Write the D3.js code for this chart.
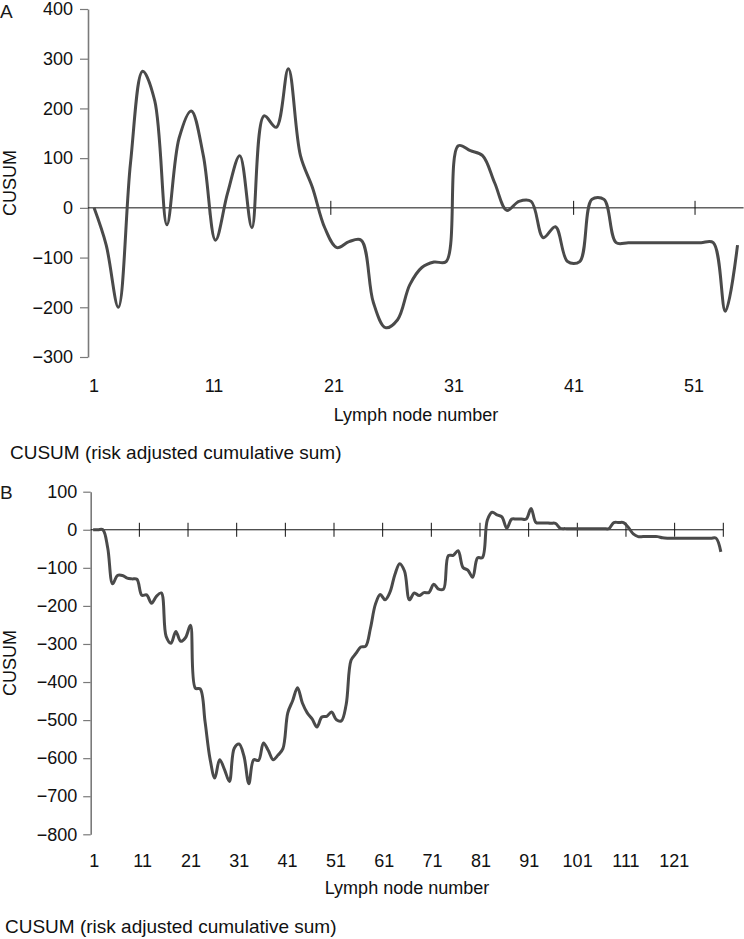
<!DOCTYPE html>
<html>
<head>
<meta charset="utf-8">
<script src="https://cdn.jsdelivr.net/npm/d3@7"></script>
<style>
  body { margin: 0; background: #fff; }
  svg { display: block; font-family: "Liberation Sans", Arial, Helvetica, sans-serif; }
</style>
</head>
<body>
<svg id="chart" width="744" height="939"></svg>
<script>
// panel A: CUSUM per lymph node (54 nodes)
const cusumA = [
  0, -75, -200, 90, 275, 215, -34, 140, 195, 105,
  -65, 30, 105, -40, 185, 162, 280, 105, 40, -40,
  -80, -68, -65, -190, -241, -225, -155, -120, -109, -108,
  125, 115, 105, 50, -5, 13, 13, -60, -38, -108,
  -108, 17, 17, -70, -70, -70, -70, -70, -70, -70,
  -70, -70, -208, -75
];

// panel B: CUSUM per lymph node (130 nodes)
const cusumB = [
  0, 0, 0, -48, -142, -120, -120, -127, -129, -130,
  -172, -171, -193, -175, -166, -280, -298, -267, -293, -283,
  -251, -416, -418, -504, -600, -652, -604, -630, -661, -574,
  -563, -595, -667, -604, -606, -560, -580, -604, -592, -575,
  -481, -449, -415, -455, -481, -497, -518, -492, -490, -479,
  -499, -502, -459, -343, -325, -308, -306, -258, -196, -170,
  -184, -164, -118, -89, -109, -184, -166, -173, -165, -165,
  -143, -156, -156, -68, -67, -55, -99, -106, -125, -74,
  -73, 25, 46, 39, 34, 4, 28, 28, 28, 28,
  56, 19, 18, 18, 17, 17, 4, 3, 3, 3,
  3, 3, 3, 3, 3, 3, 3, 19, 19, 19,
  6, -11, -18, -18, -18, -18, -18, -21, -22, -22,
  -22, -22, -22, -22, -22, -22, -22, -22, -22, -58
];

const yTicksA = [-300, -200, -100, 0, 100, 200, 300, 400];
const yTicksB = [-800, -700, -600, -500, -400, -300, -200, -100, 0, 100];
const xLabelsA = [1, 11, 21, 31, 41, 51];
const xLabelsB = [1, 11, 21, 31, 41, 51, 61, 71, 81, 91, 101, 111, 121];
// tick marks sit between categories
const xMarksA = [10.5, 20.5, 30.5, 40.5, 50.5];
const xMarksB = [10.5, 20.5, 30.5, 40.5, 50.5, 60.5, 70.5, 80.5, 90.5, 100.5, 110.5, 120.5, 130.5];

const svg = d3.select("#chart");

const panels = [
  {
    letter: "A", values: cusumA, yTicks: yTicksA, xLabels: xLabelsA, xMarks: xMarksA,
    left: 88, right: 743.6, top: 9, bottom: 357, yDomain: [-300, 400],
    labelRange: [94, 694], letterY: 18, labelY: 392,
    titleX: 416, titleY: 421, yTitleY: 183, captionX: 10, captionY: 459,
    tickSize: 8, tickPad: 7,
  },
  {
    letter: "B", values: cusumB, yTicks: yTicksB, xLabels: xLabelsB, xMarks: xMarksB,
    left: 90.7, right: 723.3, top: 491.7, bottom: 834.3, yDomain: [-800, 100],
    labelRange: [94.3, 674.3], letterY: 499, labelY: 867,
    titleX: 407, titleY: 894, yTitleY: 663, captionX: 5, captionY: 933,
    tickSize: 7.5, tickPad: 6,
  },
];

panels.forEach(drawPanel);

function drawPanel(p) {
  const g = svg.append("g");

  const x = d3.scaleLinear()
    .domain([0.5, p.values.length + 0.5])
    .range([p.left, p.right]);

  const y = d3.scaleLinear()
    .domain(p.yDomain)
    .range([p.bottom, p.top]);

  const xLabel = d3.scaleLinear()
    .domain([p.xLabels[0], p.xLabels[p.xLabels.length - 1]])
    .range(p.labelRange);

  // panel letter
  g.append("text")
    .attr("x", 0)
    .attr("y", p.letterY)
    .style("font-size", "19px")
    .attr("fill", "#1a1a1a")
    .text(p.letter);

  // value axis
  const yAxis = g.append("g")
    .attr("transform", `translate(${p.left},0)`)
    .call(
      d3.axisLeft(y)
        .tickValues(p.yTicks)
        .tickSize(p.tickSize)
        .tickPadding(p.tickPad)
        .tickSizeOuter(0)
        .tickFormat(d3.format("d"))
    );

  yAxis.select(".domain").attr("stroke", "#7a7a7a").attr("stroke-width", 1.6);
  yAxis.selectAll(".tick line").attr("stroke", "#7a7a7a").attr("stroke-width", 1.2);
  yAxis.selectAll(".tick text")
    .attr("fill", "#111")
    .style("font-size", "18px")
    .style("font-family", "\"Liberation Sans\", Arial, sans-serif");

  g.append("text")
    .attr("transform", `translate(15.5,${p.yTitleY}) rotate(-90)`)
    .attr("text-anchor", "middle")
    .style("font-size", "18px")
    .attr("fill", "#111")
    .text("CUSUM");

  // category axis crossing at zero
  g.append("line")
    .attr("x1", p.left)
    .attr("x2", p.right)
    .attr("y1", y(0))
    .attr("y2", y(0))
    .attr("stroke", "#111")
    .attr("stroke-width", 1);

  g.selectAll(".xmark")
    .data(p.xMarks)
    .join("line")
    .attr("class", "xmark")
    .attr("x1", (d) => x(d))
    .attr("x2", (d) => x(d))
    .attr("y1", y(0) - 7)
    .attr("y2", y(0) + 7)
    .attr("stroke", "#111")
    .attr("stroke-width", 1);

  g.selectAll(".xlabel")
    .data(p.xLabels)
    .join("text")
    .attr("class", "xlabel")
    .attr("x", (d) => xLabel(d))
    .attr("y", p.labelY)
    .attr("text-anchor", "middle")
    .style("font-size", "18px")
    .attr("fill", "#111")
    .text((d) => d);

  g.append("text")
    .attr("x", p.titleX)
    .attr("y", p.titleY)
    .attr("text-anchor", "middle")
    .style("font-size", "18px")
    .attr("fill", "#111")
    .text("Lymph node number");

  // CUSUM trace (smoothed, like the spreadsheet original)
  const line = d3.line()
    .x((d, i) => x(i + 1))
    .y((d) => y(d))
    .curve(d3.curveCatmullRom.alpha(0.5));

  g.append("path")
    .datum(p.values)
    .attr("fill", "none")
    .attr("stroke", "#4a4a4a")
    .attr("stroke-width", 3)
    .attr("stroke-linejoin", "round")
    .attr("d", line);

  g.append("text")
    .attr("x", p.captionX)
    .attr("y", p.captionY)
    .style("font-size", "19px")
    .attr("fill", "#111")
    .text("CUSUM (risk adjusted cumulative sum)");
}
</script>
</body>
</html>
